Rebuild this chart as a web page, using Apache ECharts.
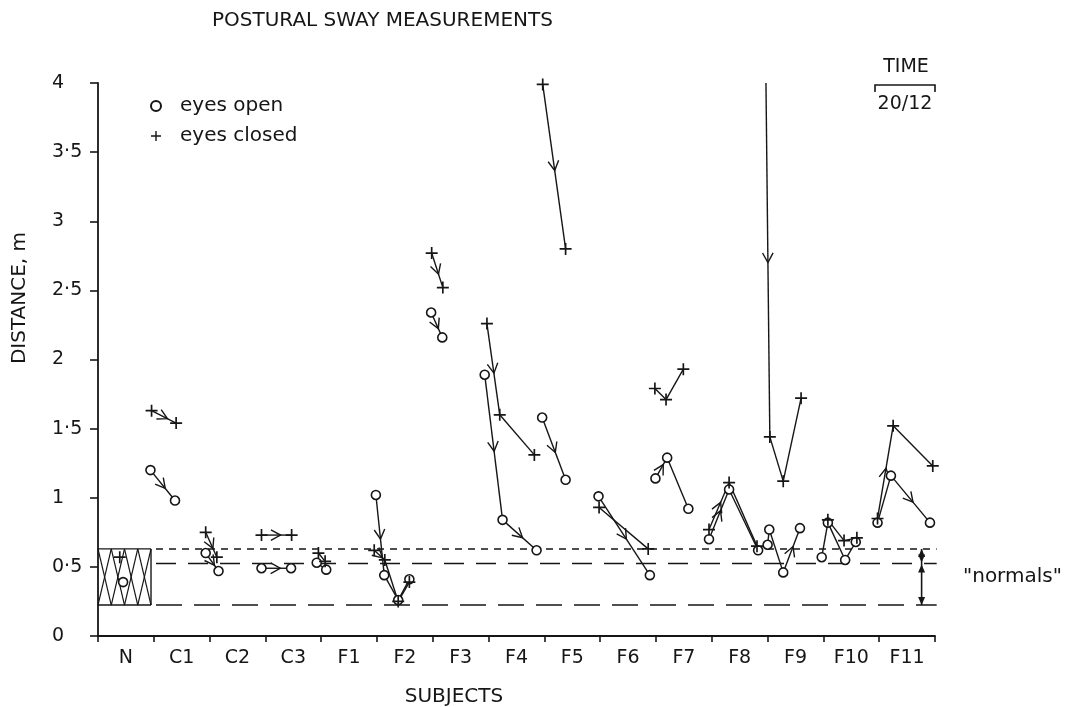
<!DOCTYPE html>
<html><head><meta charset="utf-8">
<script src="https://cdn.jsdelivr.net/npm/echarts@6/dist/echarts.min.js"></script>
<style>html,body{margin:0;padding:0;background:#fff}#c{width:1066px;height:707px}</style>
</head><body><div id="c"></div>
<script>
// ---------------- data ----------------
const subjects = ['N','C1','C2','C3','F1','F2','F3','F4','F5','F6','F7','F8','F9','F10','F11'];
const yTickLabels = ['0','0·5','1','1·5','2','2·5','3','3·5','4'];
// per subject: list of [time offset within the subject's band (0..1), distance m]
const eyesOpen = [
  [[0.45,0.39]],
  [[-0.06,1.20],[0.38,0.98]],
  [[-0.07,0.60],[0.16,0.47]],
  [[-0.07,0.49],[0.46,0.49]],
  [[-0.08,0.53],[0.09,0.48]],
  [[-0.02,1.02],[0.13,0.44],[0.38,0.26],[0.58,0.41]],
  [[-0.03,2.34],[0.17,2.16]],
  [[-0.07,1.89],[0.25,0.84],[0.86,0.62]],
  [[-0.04,1.58],[0.38,1.13]],
  [[-0.03,1.01],[0.89,0.44]],
  [[-0.01,1.14],[0.20,1.29],[0.58,0.92]],
  [[-0.05,0.70],[0.31,1.06],[0.83,0.62]],
  [[0.00,0.66],[0.03,0.77],[0.28,0.46],[0.58,0.78]],
  [[-0.03,0.57],[0.08,0.82],[0.39,0.55],[0.58,0.68]],
  [[-0.03,0.82],[0.21,1.16],[0.91,0.82]]
];
const eyesClosed = [
  [[0.39,0.57]],
  [[-0.04,1.63],[0.40,1.54]],
  [[-0.07,0.75],[0.13,0.57]],
  [[-0.07,0.73],[0.47,0.73]],
  [[-0.05,0.60],[0.07,0.54]],
  [[-0.05,0.62],[0.14,0.55],[0.38,0.25],[0.58,0.39]],
  [[-0.02,2.77],[0.18,2.52]],
  [[-0.03,2.26],[0.20,1.60],[0.82,1.31]],
  [[-0.03,3.99],[0.38,2.80]],
  [[-0.02,0.93],[0.86,0.63]],
  [[-0.02,1.79],[0.18,1.71],[0.49,1.93]],
  [[-0.05,0.77],[0.31,1.11],[0.81,0.65]],
  [[-0.03,4.02],[0.04,1.44],[0.28,1.12],[0.60,1.72]],
  [[0.08,0.84],[0.37,0.69],[0.60,0.71]],
  [[-0.03,0.85],[0.25,1.52],[0.96,1.23]]
];
// segments (index within each subject's path) carrying a direction arrow
const openArrows   = [[],[0],[0],[0],[],[0],[0],[0,1],[0],[0],[0],[0],[2],[],[1]];
const closedArrows = [[],[0],[0],[0],[],[0],[0],[0],[0],[],[],[0],[0],[],[0]];
// "normals" band
const normalUpper = 0.63;
const normalMean = 0.525;
const normalLower = 0.224;

// ---------------- build ----------------
const INK = '#161616';
const FONT = "'DejaVu Sans', sans-serif";

function toPoints(paths){
  const pts = [];
  paths.forEach((p, s) => p.forEach(([t, v]) => pts.push([s + t, v])));
  return pts;
}
function toSegments(paths, arrows){
  const segs = [];
  paths.forEach((p, s) => {
    for (let i = 0; i < p.length - 1; i++) {
      segs.push([s + p[i][0], p[i][1], s + p[i+1][0], p[i+1][1], arrows[s].includes(i) ? 1 : 0]);
    }
  });
  return segs;
}
const segments = toSegments(eyesOpen, openArrows).concat(toSegments(eyesClosed, closedArrows));

function renderSegment(params, api){
  const a = api.coord([api.value(0), api.value(1)]);
  const b = api.coord([api.value(2), api.value(3)]);
  const children = [{type:'line', shape:{x1:a[0],y1:a[1],x2:b[0],y2:b[1]}, style:{stroke:INK, lineWidth:1.4}}];
  if (api.value(4)) {
    const dx = b[0]-a[0], dy = b[1]-a[1], len = Math.hypot(dx, dy) || 1;
    const ux = dx/len, uy = dy/len;
    const mx = (a[0]+b[0])/2 + ux*4, my = (a[1]+b[1])/2 + uy*4;
    const L = 11, ang = 0.5, c = Math.cos(ang), s = Math.sin(ang);
    const bx = -ux, by = -uy;
    const p1 = [mx + L*(bx*c - by*s), my + L*(bx*s + by*c)];
    const p2 = [mx + L*(bx*c + by*s), my + L*(-bx*s + by*c)];
    children.push({type:'polyline', shape:{points:[p1,[mx,my],p2]}, style:{stroke:INK, lineWidth:1.4, fill:'none'}});
  }
  return {type:'group', children};
}

function arrowHead(x, y, dir){ // dir: -1 up, 1 down
  return {type:'polygon', shape:{points:[[x, y],[x-3.5, y - dir*8],[x+3.5, y - dir*8]]}, style:{fill:INK}};
}
function renderNormals(params, api){
  const hatchRight = 0.95, lineEnd = 15.03, bracketX = 14.76;
  const tl = api.coord([0, normalUpper]);
  const br = api.coord([hatchRight, normalLower]);
  const ch = [];
  const ln = (x1,y1,x2,y2,dash,w) => ch.push({type:'line', shape:{x1,y1,x2,y2}, style:{stroke:INK, lineWidth:w||1.4, lineDash:dash||null}});
  // hatched box
  ln(tl[0], tl[1], br[0], tl[1]);
  ln(tl[0], br[1], br[0], br[1]);
  ln(br[0], tl[1], br[0], br[1]);
  const n = 4, w = (br[0]-tl[0]) / n;
  for (let k = 0; k < n; k++) {
    const x0 = tl[0] + k*w, x1 = x0 + w;
    ln(x0, br[1], x1, tl[1], null, 1.2);
    ln(x0, tl[1], x1, br[1], null, 1.2);
  }
  // reference lines
  [[normalUpper,[7,6]],[normalMean,[20,12]],[normalLower,[26,12]]].forEach(([v, dash]) => {
    const p = api.coord([hatchRight, v]), q = api.coord([lineEnd, v]);
    ln(p[0] + 5, p[1], q[0], q[1], dash, 1.5);
  });
  // double arrows marking the normal range
  const bt = api.coord([bracketX, normalUpper]), bm = api.coord([bracketX, normalMean]), bb = api.coord([bracketX, normalLower]);
  ln(bt[0], bt[1], bb[0], bb[1], null, 1.6);
  ch.push(arrowHead(bt[0], bt[1], -1));
  ch.push(arrowHead(bm[0], bm[1]-1, 1));
  ch.push(arrowHead(bm[0], bm[1]+1, -1));
  ch.push(arrowHead(bb[0], bb[1], 1));
  return {type:'group', children: ch};
}

const chart = echarts.init(document.getElementById('c'), null, {renderer:'canvas'});
const plusPath = 'path://M4.3,0H5.7V4.3H10V5.7H5.7V10H4.3V5.7H0V4.3H4.3Z';

chart.setOption({
  backgroundColor: '#ffffff',
  animation: false,
  title: {
    text: 'POSTURAL SWAY MEASUREMENTS', left: 207, top: 6,
    textStyle: {fontSize: 20, fontWeight: 'normal', fontFamily: FONT, color: INK}
  },
  legend: {
    left: 150, top: 96, orient: 'vertical', itemWidth: 10, itemHeight: 10, itemGap: 10, padding: 0,
    selectedMode: false,
    textStyle: {fontSize: 20, fontFamily: FONT, color: INK, padding: [0,0,0,14]},
    data: ['eyes open', 'eyes closed']
  },
  grid: {left: 98, right: 131, top: 83, bottom: 71, containLabel: false},
  xAxis: [
    {
      type: 'category', data: subjects, boundaryGap: true, position: 'bottom',
      axisLine: {lineStyle: {color: INK, width: 1.8}},
      axisTick: {show: true, length: 6, lineStyle: {color: INK, width: 1.6}},
      axisLabel: {color: INK, fontSize: 19, fontFamily: FONT, margin: 13},
      splitLine: {show: false}
    },
    {type: 'value', min: 0, max: 15, show: false}
  ],
  yAxis: {
    type: 'value', min: 0, max: 4, interval: 0.5,
    axisLine: {show: true, lineStyle: {color: INK, width: 1.8}},
    axisTick: {show: true, length: 8, lineStyle: {color: INK, width: 1.6}},
    axisLabel: {color: INK, fontSize: 19, fontFamily: FONT, margin: 46, align: 'left',
      formatter: v => yTickLabels[Math.round(v / 0.5)]},
    splitLine: {show: false}
  },
  graphic: [
    {type: 'text', x: 20, y: 298, rotation: Math.PI/2,
     style: {text: 'DISTANCE, m', fontSize: 20, fontFamily: FONT, fill: INK, align: 'center', verticalAlign: 'middle'}},
    {type: 'text', x: 454, y: 697,
     style: {text: 'SUBJECTS', fontSize: 20, fontFamily: FONT, fill: INK, align: 'center', verticalAlign: 'middle'}},
    {type: 'text', x: 963, y: 577,
     style: {text: '"normals"', fontSize: 20, fontFamily: FONT, fill: INK, align: 'left', verticalAlign: 'middle'}},
    {type: 'text', x: 906, y: 67,
     style: {text: 'TIME', fontSize: 19, fontFamily: FONT, fill: INK, align: 'center', verticalAlign: 'middle'}},
    {type: 'polyline', shape: {points: [[875, 92], [875, 85], [935, 85], [935, 92]]},
     style: {stroke: INK, lineWidth: 1.6, fill: 'none'}},
    {type: 'text', x: 905, y: 104,
     style: {text: '20/12', fontSize: 19, fontFamily: FONT, fill: INK, align: 'center', verticalAlign: 'middle'}}
  ],
  series: [
    {
      type: 'custom', name: 'normals', xAxisIndex: 1, yAxisIndex: 0, clip: false, silent: true, z: 1,
      renderItem: renderNormals, data: [[0, normalLower]]
    },
    {
      type: 'custom', name: 'paths', xAxisIndex: 1, yAxisIndex: 0, clip: true, silent: true, z: 2,
      renderItem: renderSegment, data: segments, encode: {x: [0, 2], y: [1, 3]}
    },
    {
      type: 'scatter', name: 'eyes open', xAxisIndex: 1, yAxisIndex: 0, clip: true, z: 3,
      symbol: 'circle', symbolSize: 9,
      itemStyle: {color: '#ffffff', borderColor: INK, borderWidth: 1.6, opacity: 1},
      data: toPoints(eyesOpen)
    },
    {
      type: 'scatter', name: 'eyes closed', xAxisIndex: 1, yAxisIndex: 0, clip: true, z: 4,
      symbol: plusPath, symbolSize: 12,
      itemStyle: {color: INK, opacity: 1},
      data: toPoints(eyesClosed)
    }
  ]
});
</script>
</body></html>
